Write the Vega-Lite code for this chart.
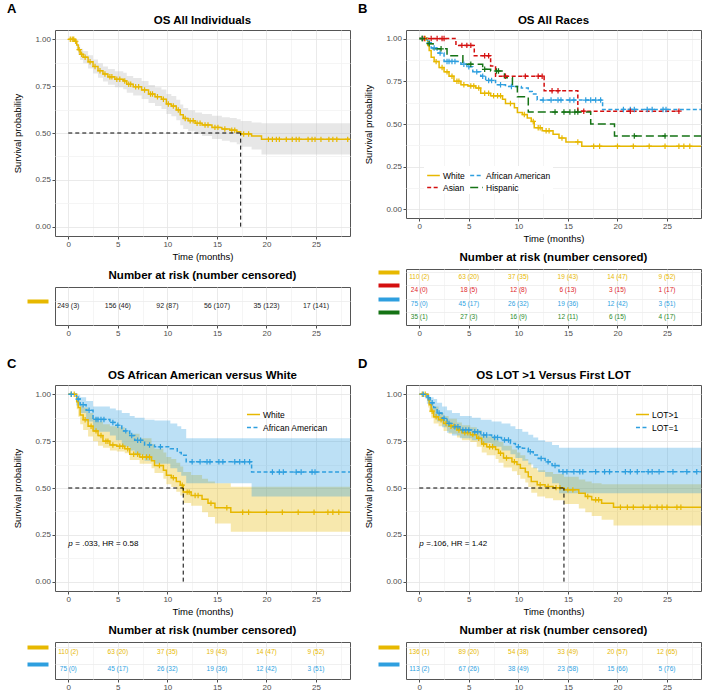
{
"$schema": "https://vega.github.io/schema/vega-lite/v6.json",
"background": "white",
"padding": {"left": 7, "top": 3, "right": 5, "bottom": 5},
"datasets": {
"kmA": [{"t":0,"s":1},{"t":0.65,"s":0.99},{"t":0.85,"s":0.97},{"t":1,"s":0.945},{"t":1.2,"s":0.92},{"t":1.5,"s":0.905},{"t":2,"s":0.88},{"t":2.5,"s":0.855},{"t":3,"s":0.833},{"t":3.5,"s":0.815},{"t":4,"s":0.8},{"t":4.7,"s":0.787},{"t":5.55,"s":0.778},{"t":5.9,"s":0.76},{"t":6.55,"s":0.747},{"t":7.4,"s":0.73},{"t":8.1,"s":0.708},{"t":8.75,"s":0.694},{"t":9.4,"s":0.68},{"t":9.9,"s":0.655},{"t":10.4,"s":0.644},{"t":10.9,"s":0.623},{"t":11.3,"s":0.597},{"t":11.6,"s":0.578},{"t":12.1,"s":0.566},{"t":12.8,"s":0.552},{"t":13.5,"s":0.543},{"t":14.5,"s":0.53},{"t":15.5,"s":0.521},{"t":16.3,"s":0.515},{"t":17,"s":0.507},{"t":17.4,"s":0.495},{"t":18.5,"s":0.484},{"t":19.5,"s":0.466},{"t":28.43,"s":0.466}],
"bandA": [{"t":0,"s":1,"s2":1},{"t":0.65,"s":0.975,"s2":1},{"t":0.85,"s":0.95,"s2":0.99},{"t":1,"s":0.918,"s2":0.972},{"t":1.2,"s":0.89,"s2":0.95},{"t":1.5,"s":0.872,"s2":0.938},{"t":2,"s":0.845,"s2":0.915},{"t":2.5,"s":0.818,"s2":0.892},{"t":3,"s":0.795,"s2":0.872},{"t":3.5,"s":0.775,"s2":0.855},{"t":4,"s":0.758,"s2":0.842},{"t":4.7,"s":0.744,"s2":0.83},{"t":5.55,"s":0.734,"s2":0.822},{"t":5.9,"s":0.715,"s2":0.805},{"t":6.55,"s":0.7,"s2":0.794},{"t":7.4,"s":0.682,"s2":0.778},{"t":8.1,"s":0.66,"s2":0.756},{"t":8.75,"s":0.644,"s2":0.744},{"t":9.4,"s":0.628,"s2":0.732},{"t":9.9,"s":0.602,"s2":0.708},{"t":10.4,"s":0.59,"s2":0.698},{"t":10.9,"s":0.568,"s2":0.678},{"t":11.3,"s":0.542,"s2":0.652},{"t":11.6,"s":0.522,"s2":0.634},{"t":12.1,"s":0.51,"s2":0.622},{"t":12.8,"s":0.494,"s2":0.61},{"t":13.5,"s":0.484,"s2":0.602},{"t":14.5,"s":0.468,"s2":0.592},{"t":15.5,"s":0.458,"s2":0.584},{"t":16.3,"s":0.45,"s2":0.58},{"t":17,"s":0.44,"s2":0.574},{"t":17.4,"s":0.426,"s2":0.564},{"t":18.5,"s":0.412,"s2":0.556},{"t":19.5,"s":0.385,"s2":0.552},{"t":28.43,"s":0.385,"s2":0.552}],
"censA": [{"t":0.2,"s":1},{"t":0.4,"s":1},{"t":0.55,"s":1},{"t":0.75,"s":0.99},{"t":1.1,"s":0.945},{"t":1.35,"s":0.92},{"t":1.7,"s":0.905},{"t":2.2,"s":0.88},{"t":2.7,"s":0.855},{"t":3.2,"s":0.833},{"t":3.7,"s":0.815},{"t":4.2,"s":0.8},{"t":4.4,"s":0.8},{"t":4.9,"s":0.787},{"t":5.2,"s":0.787},{"t":5.7,"s":0.778},{"t":6.1,"s":0.76},{"t":6.3,"s":0.76},{"t":6.8,"s":0.747},{"t":7.1,"s":0.747},{"t":7.7,"s":0.73},{"t":8.3,"s":0.708},{"t":8.5,"s":0.708},{"t":9,"s":0.694},{"t":9.6,"s":0.68},{"t":10.1,"s":0.655},{"t":10.6,"s":0.644},{"t":11.1,"s":0.623},{"t":11.8,"s":0.578},{"t":12.3,"s":0.566},{"t":12.6,"s":0.566},{"t":13,"s":0.552},{"t":13.3,"s":0.552},{"t":13.8,"s":0.543},{"t":14.1,"s":0.543},{"t":14.8,"s":0.53},{"t":15.1,"s":0.53},{"t":15.8,"s":0.521},{"t":16.5,"s":0.515},{"t":16.8,"s":0.515},{"t":17.7,"s":0.495},{"t":18.2,"s":0.495},{"t":20.2,"s":0.466},{"t":20.6,"s":0.466},{"t":21,"s":0.466},{"t":21.3,"s":0.466},{"t":22,"s":0.466},{"t":22.6,"s":0.466},{"t":23,"s":0.466},{"t":23.3,"s":0.466},{"t":24.2,"s":0.466},{"t":24.6,"s":0.466},{"t":24.9,"s":0.466},{"t":25.5,"s":0.466},{"t":26.3,"s":0.466},{"t":26.7,"s":0.466},{"t":27.1,"s":0.466},{"t":28.2,"s":0.466}],
"medA": [{"t":0,"t2":17.4,"s":0.5,"s2":0.5},{"t":17.4,"t2":17.4,"s":0,"s2":0.5}],
"medC": [{"t":0,"t2":11.6,"s":0.5,"s2":0.5},{"t":11.6,"t2":11.6,"s":0,"s2":0.5}],
"medD": [{"t":0,"t2":14.6,"s":0.5,"s2":0.5},{"t":14.6,"t2":14.6,"s":0,"s2":0.5}],
"kmB": [
{"g":"White","t":0,"s":1},{"g":"White","t":0.85,"s":0.96},{"g":"White","t":1,"s":0.93},{"g":"White","t":1.2,"s":0.89},{"g":"White","t":1.5,"s":0.865},{"g":"White","t":2,"s":0.83},{"g":"White","t":2.5,"s":0.805},{"g":"White","t":3,"s":0.78},{"g":"White","t":3.5,"s":0.75},{"g":"White","t":4.2,"s":0.73},{"g":"White","t":4.9,"s":0.723},{"g":"White","t":5.7,"s":0.71},{"g":"White","t":6.2,"s":0.68},{"g":"White","t":7.2,"s":0.665},{"g":"White","t":8.4,"s":0.645},{"g":"White","t":8.7,"s":0.62},{"g":"White","t":9.6,"s":0.595},{"g":"White","t":9.9,"s":0.568},{"g":"White","t":10.4,"s":0.555},{"g":"White","t":10.9,"s":0.535},{"g":"White","t":11.3,"s":0.515},{"g":"White","t":11.6,"s":0.478},{"g":"White","t":12.4,"s":0.46},{"g":"White","t":13.5,"s":0.44},{"g":"White","t":14.1,"s":0.418},{"g":"White","t":14.8,"s":0.395},{"g":"White","t":16.4,"s":0.37},{"g":"White","t":28.43,"s":0.37},
{"g":"African American","t":0,"s":1},{"g":"African American","t":0.8,"s":0.975},{"g":"African American","t":1.2,"s":0.945},{"g":"African American","t":1.8,"s":0.915},{"g":"African American","t":2.5,"s":0.866},{"g":"African American","t":4.2,"s":0.85},{"g":"African American","t":4.8,"s":0.835},{"g":"African American","t":5.4,"s":0.805},{"g":"African American","t":6.2,"s":0.78},{"g":"African American","t":6.7,"s":0.755},{"g":"African American","t":7.7,"s":0.73},{"g":"African American","t":8.7,"s":0.72},{"g":"African American","t":10.3,"s":0.71},{"g":"African American","t":11,"s":0.69},{"g":"African American","t":11.4,"s":0.675},{"g":"African American","t":11.9,"s":0.64},{"g":"African American","t":18.5,"s":0.585},{"g":"African American","t":28.43,"s":0.585},
{"g":"Asian","t":0,"s":1},{"g":"Asian","t":3.7,"s":0.96},{"g":"Asian","t":5.55,"s":0.9},{"g":"Asian","t":7.2,"s":0.84},{"g":"Asian","t":7.7,"s":0.78},{"g":"Asian","t":12.6,"s":0.695},{"g":"Asian","t":16,"s":0.575},{"g":"Asian","t":26.2,"s":0.575},
{"g":"Hispanic","t":0,"s":1},{"g":"Hispanic","t":0.9,"s":0.97},{"g":"Hispanic","t":1.4,"s":0.94},{"g":"Hispanic","t":2.8,"s":0.9},{"g":"Hispanic","t":4.4,"s":0.85},{"g":"Hispanic","t":6.4,"s":0.82},{"g":"Hispanic","t":7.2,"s":0.81},{"g":"Hispanic","t":8.6,"s":0.77},{"g":"Hispanic","t":9.4,"s":0.72},{"g":"Hispanic","t":9.9,"s":0.66},{"g":"Hispanic","t":11,"s":0.57},{"g":"Hispanic","t":17.3,"s":0.5},{"g":"Hispanic","t":19.7,"s":0.43},{"g":"Hispanic","t":28.43,"s":0.43}],
"censB": [
{"g":"White","t":0.3,"s":1},{"g":"White","t":0.6,"s":1},{"g":"White","t":1.7,"s":0.865},{"g":"White","t":2.3,"s":0.83},{"g":"White","t":2.8,"s":0.805},{"g":"White","t":3.3,"s":0.78},{"g":"White","t":3.8,"s":0.75},{"g":"White","t":4,"s":0.75},{"g":"White","t":4.5,"s":0.73},{"g":"White","t":5.2,"s":0.723},{"g":"White","t":5.5,"s":0.723},{"g":"White","t":6,"s":0.71},{"g":"White","t":6.6,"s":0.68},{"g":"White","t":7,"s":0.68},{"g":"White","t":7.5,"s":0.665},{"g":"White","t":7.9,"s":0.665},{"g":"White","t":8.2,"s":0.665},{"g":"White","t":9.2,"s":0.62},{"g":"White","t":10.6,"s":0.555},{"g":"White","t":11.5,"s":0.515},{"g":"White","t":12,"s":0.478},{"g":"White","t":12.2,"s":0.478},{"g":"White","t":12.8,"s":0.46},{"g":"White","t":13.1,"s":0.46},{"g":"White","t":14.4,"s":0.418},{"g":"White","t":16,"s":0.395},{"g":"White","t":17.6,"s":0.37},{"g":"White","t":18.2,"s":0.37},{"g":"White","t":20,"s":0.37},{"g":"White","t":21.6,"s":0.37},{"g":"White","t":23.2,"s":0.37},{"g":"White","t":24.8,"s":0.37},{"g":"White","t":26.2,"s":0.37},{"g":"White","t":26.7,"s":0.37},{"g":"White","t":27.3,"s":0.37},
{"g":"African American","t":0.3,"s":1},{"g":"African American","t":1,"s":0.975},{"g":"African American","t":1.5,"s":0.945},{"g":"African American","t":2.1,"s":0.915},{"g":"African American","t":2.8,"s":0.866},{"g":"African American","t":3,"s":0.866},{"g":"African American","t":3.3,"s":0.866},{"g":"African American","t":3.6,"s":0.866},{"g":"African American","t":4.5,"s":0.85},{"g":"African American","t":5,"s":0.835},{"g":"African American","t":5.8,"s":0.805},{"g":"African American","t":6.4,"s":0.78},{"g":"African American","t":7,"s":0.755},{"g":"African American","t":7.3,"s":0.755},{"g":"African American","t":8.2,"s":0.73},{"g":"African American","t":9.3,"s":0.72},{"g":"African American","t":12.5,"s":0.64},{"g":"African American","t":13.3,"s":0.64},{"g":"African American","t":14,"s":0.64},{"g":"African American","t":14.3,"s":0.64},{"g":"African American","t":15.2,"s":0.64},{"g":"African American","t":15.6,"s":0.64},{"g":"African American","t":16.8,"s":0.64},{"g":"African American","t":17.3,"s":0.64},{"g":"African American","t":17.8,"s":0.64},{"g":"African American","t":18.3,"s":0.64},{"g":"African American","t":20.6,"s":0.585},{"g":"African American","t":21.3,"s":0.585},{"g":"African American","t":21.7,"s":0.585},{"g":"African American","t":23,"s":0.585},{"g":"African American","t":23.5,"s":0.585},{"g":"African American","t":24.6,"s":0.585},{"g":"African American","t":24.9,"s":0.585},
{"g":"Asian","t":0.5,"s":1},{"g":"Asian","t":1.2,"s":1},{"g":"Asian","t":1.8,"s":1},{"g":"Asian","t":2.3,"s":1},{"g":"Asian","t":2.5,"s":1},{"g":"Asian","t":4.3,"s":0.96},{"g":"Asian","t":4.8,"s":0.96},{"g":"Asian","t":5.2,"s":0.96},{"g":"Asian","t":6.6,"s":0.9},{"g":"Asian","t":7,"s":0.9},{"g":"Asian","t":8.7,"s":0.78},{"g":"Asian","t":10.7,"s":0.78},{"g":"Asian","t":12,"s":0.78},{"g":"Asian","t":12.4,"s":0.78},{"g":"Asian","t":13.4,"s":0.695},{"g":"Asian","t":14,"s":0.695},{"g":"Asian","t":16.6,"s":0.575},{"g":"Asian","t":21.3,"s":0.575},{"g":"Asian","t":26.2,"s":0.575},
{"g":"Hispanic","t":0.3,"s":1},{"g":"Hispanic","t":1,"s":0.97},{"g":"Hispanic","t":2.2,"s":0.94},{"g":"Hispanic","t":5.2,"s":0.85},{"g":"Hispanic","t":6.6,"s":0.82},{"g":"Hispanic","t":7.8,"s":0.81},{"g":"Hispanic","t":8,"s":0.81},{"g":"Hispanic","t":13.7,"s":0.57},{"g":"Hispanic","t":14.6,"s":0.57},{"g":"Hispanic","t":15.2,"s":0.57},{"g":"Hispanic","t":15.7,"s":0.57},{"g":"Hispanic","t":16,"s":0.57},{"g":"Hispanic","t":21.7,"s":0.43},{"g":"Hispanic","t":24.8,"s":0.43}],
"bandC": [
{"g":"White","t":0,"s":1,"s2":1},{"g":"White","t":0.85,"s":0.92,"s2":0.99},{"g":"White","t":1,"s":0.88,"s2":0.975},{"g":"White","t":1.2,"s":0.84,"s2":0.95},{"g":"White","t":1.5,"s":0.81,"s2":0.93},{"g":"White","t":2,"s":0.775,"s2":0.9},{"g":"White","t":2.5,"s":0.75,"s2":0.875},{"g":"White","t":3,"s":0.725,"s2":0.855},{"g":"White","t":3.5,"s":0.715,"s2":0.84},{"g":"White","t":4.2,"s":0.7,"s2":0.83},{"g":"White","t":4.9,"s":0.695,"s2":0.825},{"g":"White","t":5.7,"s":0.685,"s2":0.8},{"g":"White","t":6.2,"s":0.65,"s2":0.79},{"g":"White","t":7.2,"s":0.63,"s2":0.765},{"g":"White","t":8.4,"s":0.605,"s2":0.735},{"g":"White","t":8.7,"s":0.58,"s2":0.71},{"g":"White","t":9.6,"s":0.55,"s2":0.69},{"g":"White","t":9.9,"s":0.52,"s2":0.665},{"g":"White","t":10.4,"s":0.505,"s2":0.655},{"g":"White","t":10.9,"s":0.48,"s2":0.635},{"g":"White","t":11.3,"s":0.46,"s2":0.615},{"g":"White","t":11.6,"s":0.42,"s2":0.585},{"g":"White","t":12.4,"s":0.405,"s2":0.57},{"g":"White","t":13.5,"s":0.37,"s2":0.55},{"g":"White","t":14.1,"s":0.345,"s2":0.535},{"g":"White","t":14.8,"s":0.31,"s2":0.525},{"g":"White","t":16.4,"s":0.267,"s2":0.507},{"g":"White","t":28.43,"s":0.267,"s2":0.507},
{"g":"African American","t":0,"s":1,"s2":1},{"g":"African American","t":0.8,"s":0.94,"s2":0.995},{"g":"African American","t":1.2,"s":0.9,"s2":0.985},{"g":"African American","t":1.8,"s":0.855,"s2":0.965},{"g":"African American","t":2.5,"s":0.8,"s2":0.935},{"g":"African American","t":4.2,"s":0.78,"s2":0.925},{"g":"African American","t":4.8,"s":0.755,"s2":0.915},{"g":"African American","t":5.4,"s":0.72,"s2":0.9},{"g":"African American","t":6.2,"s":0.7,"s2":0.885},{"g":"African American","t":6.7,"s":0.675,"s2":0.875},{"g":"African American","t":7.7,"s":0.645,"s2":0.865},{"g":"African American","t":8.7,"s":0.63,"s2":0.86},{"g":"African American","t":10.3,"s":0.605,"s2":0.845},{"g":"African American","t":11,"s":0.585,"s2":0.83},{"g":"African American","t":11.4,"s":0.565,"s2":0.815},{"g":"African American","t":11.9,"s":0.525,"s2":0.765},{"g":"African American","t":18.5,"s":0.455,"s2":0.765},{"g":"African American","t":28.43,"s":0.455,"s2":0.765}],
"annC": [{"t":0,"s":0.2,"p":"p","rest":"= .033, HR = 0.58"}],
"annD": [{"t":0,"s":0.2,"p":"p","rest":"=.106, HR = 1.42"}],
"kmD": [
{"g":"LOT>1","t":0,"s":1},{"g":"LOT>1","t":0.9,"s":0.97},{"g":"LOT>1","t":1,"s":0.945},{"g":"LOT>1","t":1.2,"s":0.91},{"g":"LOT>1","t":1.45,"s":0.88},{"g":"LOT>1","t":1.95,"s":0.865},{"g":"LOT>1","t":2.45,"s":0.845},{"g":"LOT>1","t":2.96,"s":0.83},{"g":"LOT>1","t":3.8,"s":0.81},{"g":"LOT>1","t":4.3,"s":0.795},{"g":"LOT>1","t":5.15,"s":0.785},{"g":"LOT>1","t":5.8,"s":0.765},{"g":"LOT>1","t":6.3,"s":0.735},{"g":"LOT>1","t":6.8,"s":0.72},{"g":"LOT>1","t":7.7,"s":0.705},{"g":"LOT>1","t":8,"s":0.685},{"g":"LOT>1","t":8.5,"s":0.66},{"g":"LOT>1","t":9.35,"s":0.64},{"g":"LOT>1","t":9.86,"s":0.625},{"g":"LOT>1","t":10.2,"s":0.605},{"g":"LOT>1","t":10.7,"s":0.585},{"g":"LOT>1","t":11,"s":0.56},{"g":"LOT>1","t":11.3,"s":0.535},{"g":"LOT>1","t":11.9,"s":0.518},{"g":"LOT>1","t":12.7,"s":0.508},{"g":"LOT>1","t":13.5,"s":0.502},{"g":"LOT>1","t":14.6,"s":0.49},{"g":"LOT>1","t":16.1,"s":0.472},{"g":"LOT>1","t":16.75,"s":0.455},{"g":"LOT>1","t":17.4,"s":0.437},{"g":"LOT>1","t":18.4,"s":0.418},{"g":"LOT>1","t":19.6,"s":0.397},{"g":"LOT>1","t":28.43,"s":0.397},
{"g":"LOT=1","t":0,"s":1},{"g":"LOT=1","t":0.77,"s":0.982},{"g":"LOT=1","t":1.1,"s":0.955},{"g":"LOT=1","t":1.45,"s":0.93},{"g":"LOT=1","t":1.8,"s":0.9},{"g":"LOT=1","t":2.3,"s":0.872},{"g":"LOT=1","t":2.8,"s":0.845},{"g":"LOT=1","t":3.3,"s":0.827},{"g":"LOT=1","t":4.1,"s":0.81},{"g":"LOT=1","t":5.3,"s":0.8},{"g":"LOT=1","t":6.2,"s":0.783},{"g":"LOT=1","t":7.3,"s":0.77},{"g":"LOT=1","t":8.3,"s":0.756},{"g":"LOT=1","t":9.2,"s":0.738},{"g":"LOT=1","t":9.7,"s":0.72},{"g":"LOT=1","t":10.4,"s":0.712},{"g":"LOT=1","t":11,"s":0.694},{"g":"LOT=1","t":11.5,"s":0.676},{"g":"LOT=1","t":12,"s":0.658},{"g":"LOT=1","t":12.7,"s":0.64},{"g":"LOT=1","t":13.4,"s":0.62},{"g":"LOT=1","t":14.1,"s":0.587},{"g":"LOT=1","t":28.43,"s":0.587}],
"bandD": [
{"g":"LOT>1","t":0,"s":1,"s2":1},{"g":"LOT>1","t":0.9,"s":0.93,"s2":0.99},{"g":"LOT>1","t":1,"s":0.905,"s2":0.98},{"g":"LOT>1","t":1.2,"s":0.875,"s2":0.96},{"g":"LOT>1","t":1.45,"s":0.845,"s2":0.935},{"g":"LOT>1","t":1.95,"s":0.83,"s2":0.9},{"g":"LOT>1","t":2.45,"s":0.805,"s2":0.885},{"g":"LOT>1","t":2.96,"s":0.79,"s2":0.87},{"g":"LOT>1","t":3.8,"s":0.77,"s2":0.85},{"g":"LOT>1","t":4.3,"s":0.755,"s2":0.835},{"g":"LOT>1","t":5.15,"s":0.745,"s2":0.825},{"g":"LOT>1","t":5.8,"s":0.72,"s2":0.81},{"g":"LOT>1","t":6.3,"s":0.69,"s2":0.785},{"g":"LOT>1","t":6.8,"s":0.675,"s2":0.775},{"g":"LOT>1","t":7.7,"s":0.655,"s2":0.76},{"g":"LOT>1","t":8,"s":0.635,"s2":0.745},{"g":"LOT>1","t":8.5,"s":0.61,"s2":0.725},{"g":"LOT>1","t":9.35,"s":0.59,"s2":0.705},{"g":"LOT>1","t":9.86,"s":0.57,"s2":0.69},{"g":"LOT>1","t":10.2,"s":0.55,"s2":0.675},{"g":"LOT>1","t":10.7,"s":0.53,"s2":0.655},{"g":"LOT>1","t":11,"s":0.505,"s2":0.635},{"g":"LOT>1","t":11.3,"s":0.475,"s2":0.61},{"g":"LOT>1","t":11.9,"s":0.455,"s2":0.595},{"g":"LOT>1","t":12.7,"s":0.445,"s2":0.585},{"g":"LOT>1","t":13.5,"s":0.435,"s2":0.575},{"g":"LOT>1","t":14.6,"s":0.415,"s2":0.56},{"g":"LOT>1","t":16.1,"s":0.39,"s2":0.545},{"g":"LOT>1","t":16.75,"s":0.37,"s2":0.535},{"g":"LOT>1","t":17.4,"s":0.35,"s2":0.525},{"g":"LOT>1","t":18.4,"s":0.33,"s2":0.52},{"g":"LOT>1","t":19.6,"s":0.3,"s2":0.52},{"g":"LOT>1","t":28.43,"s":0.3,"s2":0.52},
{"g":"LOT=1","t":0,"s":1,"s2":1},{"g":"LOT=1","t":0.77,"s":0.95,"s2":0.995},{"g":"LOT=1","t":1.1,"s":0.915,"s2":0.985},{"g":"LOT=1","t":1.45,"s":0.885,"s2":0.975},{"g":"LOT=1","t":1.8,"s":0.855,"s2":0.955},{"g":"LOT=1","t":2.3,"s":0.825,"s2":0.935},{"g":"LOT=1","t":2.8,"s":0.795,"s2":0.915},{"g":"LOT=1","t":3.3,"s":0.78,"s2":0.9},{"g":"LOT=1","t":4.1,"s":0.765,"s2":0.885},{"g":"LOT=1","t":5.3,"s":0.755,"s2":0.875},{"g":"LOT=1","t":6.2,"s":0.74,"s2":0.865},{"g":"LOT=1","t":7.3,"s":0.72,"s2":0.855},{"g":"LOT=1","t":8.3,"s":0.7,"s2":0.845},{"g":"LOT=1","t":9.2,"s":0.68,"s2":0.83},{"g":"LOT=1","t":9.7,"s":0.66,"s2":0.815},{"g":"LOT=1","t":10.4,"s":0.645,"s2":0.8},{"g":"LOT=1","t":11,"s":0.625,"s2":0.785},{"g":"LOT=1","t":11.5,"s":0.605,"s2":0.77},{"g":"LOT=1","t":12,"s":0.585,"s2":0.755},{"g":"LOT=1","t":12.7,"s":0.56,"s2":0.745},{"g":"LOT=1","t":13.4,"s":0.525,"s2":0.73},{"g":"LOT=1","t":14.1,"s":0.472,"s2":0.715},{"g":"LOT=1","t":28.43,"s":0.472,"s2":0.715}],
"censD": [
{"g":"LOT>1","t":0.3,"s":1},{"g":"LOT>1","t":0.6,"s":1},{"g":"LOT>1","t":1.3,"s":0.91},{"g":"LOT>1","t":1.7,"s":0.88},{"g":"LOT>1","t":2.2,"s":0.865},{"g":"LOT>1","t":2.7,"s":0.845},{"g":"LOT>1","t":3.2,"s":0.83},{"g":"LOT>1","t":3.5,"s":0.83},{"g":"LOT>1","t":4,"s":0.81},{"g":"LOT>1","t":4.6,"s":0.795},{"g":"LOT>1","t":4.9,"s":0.795},{"g":"LOT>1","t":5.4,"s":0.785},{"g":"LOT>1","t":6,"s":0.765},{"g":"LOT>1","t":6.5,"s":0.735},{"g":"LOT>1","t":7.1,"s":0.72},{"g":"LOT>1","t":7.4,"s":0.72},{"g":"LOT>1","t":8.2,"s":0.685},{"g":"LOT>1","t":8.8,"s":0.66},{"g":"LOT>1","t":9.6,"s":0.64},{"g":"LOT>1","t":12.2,"s":0.518},{"g":"LOT>1","t":13,"s":0.508},{"g":"LOT>1","t":13.8,"s":0.502},{"g":"LOT>1","t":14.2,"s":0.502},{"g":"LOT>1","t":15,"s":0.49},{"g":"LOT>1","t":15.5,"s":0.49},{"g":"LOT>1","t":17,"s":0.455},{"g":"LOT>1","t":17.8,"s":0.437},{"g":"LOT>1","t":18.1,"s":0.437},{"g":"LOT>1","t":20.3,"s":0.397},{"g":"LOT>1","t":21,"s":0.397},{"g":"LOT>1","t":21.6,"s":0.397},{"g":"LOT>1","t":22.6,"s":0.397},{"g":"LOT>1","t":23.3,"s":0.397},{"g":"LOT>1","t":24,"s":0.397},{"g":"LOT>1","t":24.5,"s":0.397},{"g":"LOT>1","t":25,"s":0.397},{"g":"LOT>1","t":26,"s":0.397},{"g":"LOT>1","t":26.4,"s":0.397},
{"g":"LOT=1","t":0.4,"s":1},{"g":"LOT=1","t":0.9,"s":0.982},{"g":"LOT=1","t":1.3,"s":0.955},{"g":"LOT=1","t":2,"s":0.9},{"g":"LOT=1","t":2.5,"s":0.872},{"g":"LOT=1","t":3,"s":0.845},{"g":"LOT=1","t":3.6,"s":0.827},{"g":"LOT=1","t":3.9,"s":0.827},{"g":"LOT=1","t":4.4,"s":0.81},{"g":"LOT=1","t":4.7,"s":0.81},{"g":"LOT=1","t":5,"s":0.81},{"g":"LOT=1","t":5.6,"s":0.8},{"g":"LOT=1","t":5.9,"s":0.8},{"g":"LOT=1","t":6.5,"s":0.783},{"g":"LOT=1","t":6.8,"s":0.783},{"g":"LOT=1","t":7.6,"s":0.77},{"g":"LOT=1","t":7.9,"s":0.77},{"g":"LOT=1","t":8.6,"s":0.756},{"g":"LOT=1","t":9,"s":0.756},{"g":"LOT=1","t":10,"s":0.72},{"g":"LOT=1","t":11.2,"s":0.694},{"g":"LOT=1","t":12.3,"s":0.658},{"g":"LOT=1","t":13,"s":0.64},{"g":"LOT=1","t":13.7,"s":0.62},{"g":"LOT=1","t":14.5,"s":0.587},{"g":"LOT=1","t":14.9,"s":0.587},{"g":"LOT=1","t":15.6,"s":0.587},{"g":"LOT=1","t":16.2,"s":0.587},{"g":"LOT=1","t":16.5,"s":0.587},{"g":"LOT=1","t":17.8,"s":0.587},{"g":"LOT=1","t":18.7,"s":0.587},{"g":"LOT=1","t":19.2,"s":0.587},{"g":"LOT=1","t":20.8,"s":0.587},{"g":"LOT=1","t":21.3,"s":0.587},{"g":"LOT=1","t":22,"s":0.587},{"g":"LOT=1","t":23.1,"s":0.587},{"g":"LOT=1","t":23.5,"s":0.587},{"g":"LOT=1","t":24.2,"s":0.587},{"g":"LOT=1","t":25.6,"s":0.587},{"g":"LOT=1","t":27,"s":0.587},{"g":"LOT=1","t":28,"s":0.587}],
"riskA": [{"g":"All","t":0,"label":"249 (3)"},{"g":"All","t":5,"label":"156 (46)"},{"g":"All","t":10,"label":"92 (87)"},{"g":"All","t":15,"label":"56 (107)"},{"g":"All","t":20,"label":"35 (123)"},{"g":"All","t":25,"label":"17 (141)"}],
"riskB": [
{"g":"White","t":0,"label":"110 (2)"},{"g":"White","t":5,"label":"63 (20)"},{"g":"White","t":10,"label":"37 (35)"},{"g":"White","t":15,"label":"19 (43)"},{"g":"White","t":20,"label":"14 (47)"},{"g":"White","t":25,"label":"9 (52)"},
{"g":"Asian","t":0,"label":"24 (0)"},{"g":"Asian","t":5,"label":"18 (5)"},{"g":"Asian","t":10,"label":"12 (8)"},{"g":"Asian","t":15,"label":"6 (13)"},{"g":"Asian","t":20,"label":"3 (15)"},{"g":"Asian","t":25,"label":"1 (17)"},
{"g":"African American","t":0,"label":"75 (0)"},{"g":"African American","t":5,"label":"45 (17)"},{"g":"African American","t":10,"label":"26 (32)"},{"g":"African American","t":15,"label":"19 (36)"},{"g":"African American","t":20,"label":"12 (42)"},{"g":"African American","t":25,"label":"3 (51)"},
{"g":"Hispanic","t":0,"label":"35 (1)"},{"g":"Hispanic","t":5,"label":"27 (3)"},{"g":"Hispanic","t":10,"label":"16 (9)"},{"g":"Hispanic","t":15,"label":"12 (11)"},{"g":"Hispanic","t":20,"label":"6 (15)"},{"g":"Hispanic","t":25,"label":"4 (17)"}],
"riskD": [
{"g":"LOT>1","t":0,"label":"136 (1)"},{"g":"LOT>1","t":5,"label":"89 (20)"},{"g":"LOT>1","t":10,"label":"54 (38)"},{"g":"LOT>1","t":15,"label":"33 (49)"},{"g":"LOT>1","t":20,"label":"20 (57)"},{"g":"LOT>1","t":25,"label":"12 (65)"},
{"g":"LOT=1","t":0,"label":"113 (2)"},{"g":"LOT=1","t":5,"label":"67 (26)"},{"g":"LOT=1","t":10,"label":"38 (49)"},{"g":"LOT=1","t":15,"label":"23 (58)"},{"g":"LOT=1","t":20,"label":"15 (66)"},{"g":"LOT=1","t":25,"label":"5 (76)"}]
},
"hconcat": [
{"vconcat": [
 {"title": {"text": "A", "anchor": "start", "fontSize": 13, "fontWeight": "bold", "dx": -48, "offset": -2, "frame": "group"},
  "vconcat": [
   {"width": 295, "height": 206, "title": {"text": "OS All Individuals", "offset": 4},
    "encoding": {
     "x": {"field": "t", "type": "quantitative", "scale": {"domain": [-1.34, 28.43], "nice": false, "zero": false},
      "axis": {"values": [0,2.5,5,7.5,10,12.5,15,17.5,20,22.5,25,27.5], "labelExpr": "datum.value % 5 === 0 ? datum.label : ''", "labelFlush": false, "labelOverlap": false, "gridColor": {"condition": {"test": "datum.value % 5 !== 0", "value": "#f3f3f3"}, "value": "#e4e4e4"}, "tickColor": {"condition": {"test": "datum.value % 5 !== 0", "value": "transparent"}, "value": "#4d4d4d"}, "title": "Time (months)"}},
     "y": {"field": "s", "type": "quantitative", "scale": {"domain": [-0.05, 1.05], "nice": false, "zero": false},
      "axis": {"values": [0,0.125,0.25,0.375,0.5,0.625,0.75,0.875,1], "format": ".2f", "labelExpr": "(datum.value*8) % 2 === 1 ? '' : datum.label", "labelFlush": false, "labelOverlap": false, "gridColor": {"condition": {"test": "(datum.value*8) % 2 === 1", "value": "#f3f3f3"}, "value": "#e4e4e4"}, "tickColor": {"condition": {"test": "(datum.value*8) % 2 === 1", "value": "transparent"}, "value": "#4d4d4d"}, "title": "Survival probability", "titlePadding": 12}}
    },
    "layer": [
     {"data": {"name": "bandA"}, "mark": {"type": "area", "interpolate": "step-after", "color": "#c4c4c4", "opacity": 0.4}, "encoding": {"y2": {"field": "s2"}}},
     {"data": {"name": "kmA"}, "mark": {"type": "line", "interpolate": "step-after", "color": "#E7B800", "strokeWidth": 1.5}, "encoding": {}},
     {"data": {"name": "censA"}, "mark": {"type": "point", "shape": "M-1,0H1M0,-1V1", "filled": false, "color": "#E7B800", "size": 30, "strokeWidth": 1.2, "opacity": 1}, "encoding": {}},
     {"data": {"name": "medA"}, "mark": {"type": "rule", "color": "black", "strokeDash": [4, 3], "strokeWidth": 1}, "encoding": {"x2": {"field": "t2"}, "y2": {"field": "s2"}}}
    ]},
   {"width": 295, "height": 38, "title": {"text": "Number at risk (number censored)", "offset": 6},
    "data": {"name": "riskA"},
    "mark": {"type": "text", "fontSize": 7},
    "encoding": {
     "x": {"field": "t", "type": "quantitative", "scale": {"domain": [-1.34, 28.43], "nice": false, "zero": false},
      "axis": {"values": [0,2.5,5,7.5,10,12.5,15,17.5,20,22.5,25,27.5], "labelExpr": "datum.value % 5 === 0 ? datum.label : ''", "labelFlush": false, "labelOverlap": false, "gridColor": {"condition": {"test": "datum.value % 5 !== 0", "value": "#f3f3f3"}, "value": "#e4e4e4"}, "tickColor": {"condition": {"test": "datum.value % 5 !== 0", "value": "transparent"}, "value": "#4d4d4d"}, "title": null}},
     "y": {"field": "g", "type": "nominal", "scale": {"type": "point", "padding": 0.6, "domain": ["All"]},
      "axis": {"title": null, "labels": false, "grid": true, "gridColor": "#ececec", "domain": false, "offset": 7, "tickSize": 21, "tickWidth": 4, "tickOffset": -5, "tickColor": "#E7B800"}},
     "text": {"field": "label"},
     "color": {"field": "g", "type": "nominal", "scale": {"domain": ["All"], "range": ["#222222"]}, "legend": null}
    }}
  ], "spacing": 51, "bounds": "flush",
  "resolve": {"scale": {"color": "independent", "strokeDash": "independent", "fill": "independent"}, "legend": {"color": "independent", "strokeDash": "independent", "fill": "independent"}}},
 {"title": {"text": "C", "anchor": "start", "fontSize": 13, "fontWeight": "bold", "dx": -48, "offset": -2, "frame": "group"},
  "vconcat": [
   {"width": 295, "height": 206, "title": {"text": "OS African American versus White", "offset": 4},
    "encoding": {
     "x": {"field": "t", "type": "quantitative", "scale": {"domain": [-1.34, 28.43], "nice": false, "zero": false},
      "axis": {"values": [0,2.5,5,7.5,10,12.5,15,17.5,20,22.5,25,27.5], "labelExpr": "datum.value % 5 === 0 ? datum.label : ''", "labelFlush": false, "labelOverlap": false, "gridColor": {"condition": {"test": "datum.value % 5 !== 0", "value": "#f3f3f3"}, "value": "#e4e4e4"}, "tickColor": {"condition": {"test": "datum.value % 5 !== 0", "value": "transparent"}, "value": "#4d4d4d"}, "title": "Time (months)"}},
     "y": {"field": "s", "type": "quantitative", "scale": {"domain": [-0.05, 1.05], "nice": false, "zero": false},
      "axis": {"values": [0,0.125,0.25,0.375,0.5,0.625,0.75,0.875,1], "format": ".2f", "labelExpr": "(datum.value*8) % 2 === 1 ? '' : datum.label", "labelFlush": false, "labelOverlap": false, "gridColor": {"condition": {"test": "(datum.value*8) % 2 === 1", "value": "#f3f3f3"}, "value": "#e4e4e4"}, "tickColor": {"condition": {"test": "(datum.value*8) % 2 === 1", "value": "transparent"}, "value": "#4d4d4d"}, "title": "Survival probability", "titlePadding": 12}}
    },
    "layer": [
     {"data": {"name": "bandC"}, "mark": {"type": "area", "interpolate": "step-after", "fillOpacity": 0.32}, "encoding": {"y2": {"field": "s2"}, "fill": {"field": "g", "type": "nominal", "scale": {"domain": ["White", "African American"], "range": ["#E7B800", "#2E9FDF"]}, "legend": {"title": null, "orient": "top-right", "offset": 20, "symbolType": "stroke", "symbolSize": 170, "symbolStrokeWidth": 1.5, "labelFontSize": 8.5, "padding": 2, "rowPadding": 1, "labelOffset": 2}}}},
     {"data": {"name": "kmB"}, "transform": [{"filter": {"field": "g", "oneOf": ["White", "African American"]}}], "mark": {"type": "line", "interpolate": "step-after", "strokeWidth": 1.5},
      "encoding": {
       "color": {"field": "g", "type": "nominal", "scale": {"domain": ["White", "African American"], "range": ["#E7B800", "#2E9FDF"]}, "legend": {"title": null, "orient": "top-right", "offset": 20, "symbolType": "stroke", "symbolSize": 170, "symbolStrokeWidth": 1.5, "labelFontSize": 8.5, "padding": 2, "rowPadding": 1, "labelOffset": 2}},
       "strokeDash": {"field": "g", "type": "nominal", "scale": {"domain": ["White", "African American"], "range": [[1, 0], [4, 2.5]]}, "legend": {"title": null, "orient": "top-right", "offset": 20, "symbolType": "stroke", "symbolSize": 170, "symbolStrokeWidth": 1.5, "labelFontSize": 8.5, "padding": 2, "rowPadding": 1, "labelOffset": 2}}
      }},
     {"data": {"name": "censB"}, "transform": [{"filter": {"field": "g", "oneOf": ["White", "African American"]}}], "mark": {"type": "point", "shape": "M-1,0H1M0,-1V1", "filled": false, "size": 30, "strokeWidth": 1.2, "opacity": 1}, "encoding": {"stroke": {"field": "g", "type": "nominal", "scale": {"domain": ["White", "African American"], "range": ["#E7B800", "#2E9FDF"]}, "legend": null}}},
     {"data": {"name": "medC"}, "mark": {"type": "rule", "color": "black", "strokeDash": [4, 3], "strokeWidth": 1}, "encoding": {"x2": {"field": "t2"}, "y2": {"field": "s2"}}},
     {"data": {"name": "annC"}, "mark": {"type": "text", "align": "left", "fontSize": 8, "fontStyle": "italic", "color": "black"}, "encoding": {"text": {"field": "p"}}},
     {"data": {"name": "annC"}, "mark": {"type": "text", "align": "left", "fontSize": 8, "dx": 7, "color": "black"}, "encoding": {"text": {"field": "rest"}}}
    ]},
   {"width": 295, "height": 37, "title": {"text": "Number at risk (number censored)", "offset": 6},
    "data": {"name": "riskB"},
    "transform": [{"filter": {"field": "g", "oneOf": ["White", "African American"]}}],
    "mark": {"type": "text", "fontSize": 6.5},
    "encoding": {
     "x": {"field": "t", "type": "quantitative", "scale": {"domain": [-1.34, 28.43], "nice": false, "zero": false},
      "axis": {"values": [0,2.5,5,7.5,10,12.5,15,17.5,20,22.5,25,27.5], "labelExpr": "datum.value % 5 === 0 ? datum.label : ''", "labelFlush": false, "labelOverlap": false, "gridColor": {"condition": {"test": "datum.value % 5 !== 0", "value": "#f3f3f3"}, "value": "#e4e4e4"}, "tickColor": {"condition": {"test": "datum.value % 5 !== 0", "value": "transparent"}, "value": "#4d4d4d"}, "title": null}},
     "y": {"field": "g", "type": "nominal", "scale": {"type": "point", "padding": 0.6, "domain": ["White", "African American"]},
      "axis": {"title": null, "labels": false, "grid": true, "gridColor": "#ececec", "domain": false, "offset": 7, "tickSize": 21, "tickWidth": 4, "tickOffset": -5, "tickColor": {"condition": {"test": "datum.value === 'White'", "value": "#E7B800"}, "value": "#2E9FDF"}}},
     "text": {"field": "label"},
     "color": {"field": "g", "type": "nominal", "scale": {"domain": ["White", "African American"], "range": ["#E7B800", "#2E9FDF"]}, "legend": null}
    }}
  ], "spacing": 51, "bounds": "flush",
  "resolve": {"scale": {"color": "independent", "strokeDash": "independent", "fill": "independent", "stroke": "independent"}, "legend": {"color": "independent", "strokeDash": "independent", "fill": "independent", "stroke": "independent"}}}
], "spacing": 20,
 "resolve": {"scale": {"color": "independent", "strokeDash": "independent", "fill": "independent", "stroke": "independent"}, "legend": {"color": "independent", "strokeDash": "independent", "fill": "independent", "stroke": "independent"}}},
{"vconcat": [
 {"title": {"text": "B", "anchor": "start", "fontSize": 13, "fontWeight": "bold", "dx": -48, "offset": -2, "frame": "group"},
  "vconcat": [
   {"width": 295, "height": 188, "title": {"text": "OS All Races", "offset": 4},
    "encoding": {
     "x": {"field": "t", "type": "quantitative", "scale": {"domain": [-1.34, 28.43], "nice": false, "zero": false},
      "axis": {"values": [0,2.5,5,7.5,10,12.5,15,17.5,20,22.5,25,27.5], "labelExpr": "datum.value % 5 === 0 ? datum.label : ''", "labelFlush": false, "labelOverlap": false, "gridColor": {"condition": {"test": "datum.value % 5 !== 0", "value": "#f3f3f3"}, "value": "#e4e4e4"}, "tickColor": {"condition": {"test": "datum.value % 5 !== 0", "value": "transparent"}, "value": "#4d4d4d"}, "title": "Time (months)"}},
     "y": {"field": "s", "type": "quantitative", "scale": {"domain": [-0.05, 1.05], "nice": false, "zero": false},
      "axis": {"values": [0,0.125,0.25,0.375,0.5,0.625,0.75,0.875,1], "format": ".2f", "labelExpr": "(datum.value*8) % 2 === 1 ? '' : datum.label", "labelFlush": false, "labelOverlap": false, "gridColor": {"condition": {"test": "(datum.value*8) % 2 === 1", "value": "#f3f3f3"}, "value": "#e4e4e4"}, "tickColor": {"condition": {"test": "(datum.value*8) % 2 === 1", "value": "transparent"}, "value": "#4d4d4d"}, "title": "Survival probability", "titlePadding": 12}}
    },
    "layer": [
     {"data": {"name": "kmB"}, "mark": {"type": "line", "interpolate": "step-after", "strokeWidth": 1.5},
      "encoding": {
       "color": {"field": "g", "type": "nominal", "scale": {"domain": ["White", "African American", "Asian", "Hispanic"], "range": ["#E7B800", "#2E9FDF", "#D40F0F", "#157315"]}, "legend": {"title": null, "orient": "none", "legendX": 18, "legendY": 136, "direction": "horizontal", "columns": 2, "symbolType": "stroke", "symbolSize": 160, "symbolStrokeWidth": 1.5, "labelFontSize": 8.5, "fillColor": "white", "padding": 2, "columnPadding": 2, "rowPadding": 0, "labelOffset": 2}},
       "strokeDash": {"field": "g", "type": "nominal", "scale": {"domain": ["White", "African American", "Asian", "Hispanic"], "range": [[1, 0], [4, 2.5], [4, 2.5], [8, 4]]}, "legend": {"title": null, "orient": "none", "legendX": 18, "legendY": 136, "direction": "horizontal", "columns": 2, "symbolType": "stroke", "symbolSize": 160, "symbolStrokeWidth": 1.5, "labelFontSize": 8.5, "fillColor": "white", "padding": 2, "columnPadding": 2, "rowPadding": 0, "labelOffset": 2}}
      }},
     {"data": {"name": "censB"}, "mark": {"type": "point", "shape": "M-1,0H1M0,-1V1", "filled": false, "size": 30, "strokeWidth": 1.2, "opacity": 1}, "encoding": {"stroke": {"field": "g", "type": "nominal", "scale": {"domain": ["White", "African American", "Asian", "Hispanic"], "range": ["#E7B800", "#2E9FDF", "#D40F0F", "#157315"]}, "legend": null}}}
    ]},
   {"width": 295, "height": 56, "title": {"text": "Number at risk (number censored)", "offset": 6},
    "data": {"name": "riskB"},
    "mark": {"type": "text", "fontSize": 6.5},
    "encoding": {
     "x": {"field": "t", "type": "quantitative", "scale": {"domain": [-1.34, 28.43], "nice": false, "zero": false},
      "axis": {"values": [0,2.5,5,7.5,10,12.5,15,17.5,20,22.5,25,27.5], "labelExpr": "datum.value % 5 === 0 ? datum.label : ''", "labelFlush": false, "labelOverlap": false, "gridColor": {"condition": {"test": "datum.value % 5 !== 0", "value": "#f3f3f3"}, "value": "#e4e4e4"}, "tickColor": {"condition": {"test": "datum.value % 5 !== 0", "value": "transparent"}, "value": "#4d4d4d"}, "title": null}},
     "y": {"field": "g", "type": "nominal", "scale": {"type": "point", "padding": 0.6, "domain": ["White", "Asian", "African American", "Hispanic"]},
      "axis": {"title": null, "labels": false, "grid": true, "gridColor": "#ececec", "domain": false, "offset": 7, "tickSize": 21, "tickWidth": 4, "tickOffset": -5, "tickColor": {"condition": [{"test": "datum.value === 'White'", "value": "#E7B800"}, {"test": "datum.value === 'Asian'", "value": "#D40F0F"}, {"test": "datum.value === 'African American'", "value": "#2E9FDF"}], "value": "#157315"}}},
     "text": {"field": "label"},
     "color": {"field": "g", "type": "nominal", "scale": {"domain": ["White", "Asian", "African American", "Hispanic"], "range": ["#E7B800", "#E0262A", "#2E9FDF", "#2A8A2A"]}, "legend": null}
    }}
  ], "spacing": 51, "bounds": "flush",
  "resolve": {"scale": {"color": "independent", "strokeDash": "independent", "fill": "independent", "stroke": "independent"}, "legend": {"color": "independent", "strokeDash": "independent", "fill": "independent", "stroke": "independent"}}},
 {"title": {"text": "D", "anchor": "start", "fontSize": 13, "fontWeight": "bold", "dx": -48, "offset": -2, "frame": "group"},
  "vconcat": [
   {"width": 295, "height": 206, "title": {"text": "OS LOT >1 Versus First LOT", "offset": 4},
    "encoding": {
     "x": {"field": "t", "type": "quantitative", "scale": {"domain": [-1.34, 28.43], "nice": false, "zero": false},
      "axis": {"values": [0,2.5,5,7.5,10,12.5,15,17.5,20,22.5,25,27.5], "labelExpr": "datum.value % 5 === 0 ? datum.label : ''", "labelFlush": false, "labelOverlap": false, "gridColor": {"condition": {"test": "datum.value % 5 !== 0", "value": "#f3f3f3"}, "value": "#e4e4e4"}, "tickColor": {"condition": {"test": "datum.value % 5 !== 0", "value": "transparent"}, "value": "#4d4d4d"}, "title": "Time (months)"}},
     "y": {"field": "s", "type": "quantitative", "scale": {"domain": [-0.05, 1.05], "nice": false, "zero": false},
      "axis": {"values": [0,0.125,0.25,0.375,0.5,0.625,0.75,0.875,1], "format": ".2f", "labelExpr": "(datum.value*8) % 2 === 1 ? '' : datum.label", "labelFlush": false, "labelOverlap": false, "gridColor": {"condition": {"test": "(datum.value*8) % 2 === 1", "value": "#f3f3f3"}, "value": "#e4e4e4"}, "tickColor": {"condition": {"test": "(datum.value*8) % 2 === 1", "value": "transparent"}, "value": "#4d4d4d"}, "title": "Survival probability", "titlePadding": 12}}
    },
    "layer": [
     {"data": {"name": "bandD"}, "mark": {"type": "area", "interpolate": "step-after", "fillOpacity": 0.32}, "encoding": {"y2": {"field": "s2"}, "fill": {"field": "g", "type": "nominal", "scale": {"domain": ["LOT>1", "LOT=1"], "range": ["#E7B800", "#2E9FDF"]}, "legend": {"title": null, "orient": "top-right", "offset": 20, "symbolType": "stroke", "symbolSize": 170, "symbolStrokeWidth": 1.5, "labelFontSize": 8.5, "padding": 2, "rowPadding": 1, "labelOffset": 2}}}},
     {"data": {"name": "kmD"}, "mark": {"type": "line", "interpolate": "step-after", "strokeWidth": 1.5},
      "encoding": {
       "color": {"field": "g", "type": "nominal", "scale": {"domain": ["LOT>1", "LOT=1"], "range": ["#E7B800", "#2E9FDF"]}, "legend": {"title": null, "orient": "top-right", "offset": 20, "symbolType": "stroke", "symbolSize": 170, "symbolStrokeWidth": 1.5, "labelFontSize": 8.5, "padding": 2, "rowPadding": 1, "labelOffset": 2}},
       "strokeDash": {"field": "g", "type": "nominal", "scale": {"domain": ["LOT>1", "LOT=1"], "range": [[1, 0], [4, 2.5]]}, "legend": {"title": null, "orient": "top-right", "offset": 20, "symbolType": "stroke", "symbolSize": 170, "symbolStrokeWidth": 1.5, "labelFontSize": 8.5, "padding": 2, "rowPadding": 1, "labelOffset": 2}}
      }},
     {"data": {"name": "censD"}, "mark": {"type": "point", "shape": "M-1,0H1M0,-1V1", "filled": false, "size": 30, "strokeWidth": 1.2, "opacity": 1}, "encoding": {"stroke": {"field": "g", "type": "nominal", "scale": {"domain": ["LOT>1", "LOT=1"], "range": ["#E7B800", "#2E9FDF"]}, "legend": null}}},
     {"data": {"name": "medD"}, "mark": {"type": "rule", "color": "black", "strokeDash": [4, 3], "strokeWidth": 1}, "encoding": {"x2": {"field": "t2"}, "y2": {"field": "s2"}}},
     {"data": {"name": "annD"}, "mark": {"type": "text", "align": "left", "fontSize": 8, "fontStyle": "italic", "color": "black"}, "encoding": {"text": {"field": "p"}}},
     {"data": {"name": "annD"}, "mark": {"type": "text", "align": "left", "fontSize": 8, "dx": 7, "color": "black"}, "encoding": {"text": {"field": "rest"}}}
    ]},
   {"width": 295, "height": 37, "title": {"text": "Number at risk (number censored)", "offset": 6},
    "data": {"name": "riskD"},
    "mark": {"type": "text", "fontSize": 6.5},
    "encoding": {
     "x": {"field": "t", "type": "quantitative", "scale": {"domain": [-1.34, 28.43], "nice": false, "zero": false},
      "axis": {"values": [0,2.5,5,7.5,10,12.5,15,17.5,20,22.5,25,27.5], "labelExpr": "datum.value % 5 === 0 ? datum.label : ''", "labelFlush": false, "labelOverlap": false, "gridColor": {"condition": {"test": "datum.value % 5 !== 0", "value": "#f3f3f3"}, "value": "#e4e4e4"}, "tickColor": {"condition": {"test": "datum.value % 5 !== 0", "value": "transparent"}, "value": "#4d4d4d"}, "title": null}},
     "y": {"field": "g", "type": "nominal", "scale": {"type": "point", "padding": 0.6, "domain": ["LOT>1", "LOT=1"]},
      "axis": {"title": null, "labels": false, "grid": true, "gridColor": "#ececec", "domain": false, "offset": 7, "tickSize": 21, "tickWidth": 4, "tickOffset": -5, "tickColor": {"condition": {"test": "datum.value === 'LOT>1'", "value": "#E7B800"}, "value": "#2E9FDF"}}},
     "text": {"field": "label"},
     "color": {"field": "g", "type": "nominal", "scale": {"domain": ["LOT>1", "LOT=1"], "range": ["#E7B800", "#2E9FDF"]}, "legend": null}
    }}
  ], "spacing": 51, "bounds": "flush",
  "resolve": {"scale": {"color": "independent", "strokeDash": "independent", "fill": "independent", "stroke": "independent"}, "legend": {"color": "independent", "strokeDash": "independent", "fill": "independent", "stroke": "independent"}}}
], "spacing": 20,
 "resolve": {"scale": {"color": "independent", "strokeDash": "independent", "fill": "independent", "stroke": "independent"}, "legend": {"color": "independent", "strokeDash": "independent", "fill": "independent", "stroke": "independent"}}}
],
"spacing": 4,
"resolve": {"scale": {"color": "independent", "strokeDash": "independent", "fill": "independent", "stroke": "independent"}, "legend": {"color": "independent", "strokeDash": "independent", "fill": "independent", "stroke": "independent"}},
"config": {
 "font": "Liberation Sans",
 "view": {"stroke": "#555555", "strokeWidth": 1},
 "axis": {"labelFont": "Liberation Sans", "labelFontSize": 8, "labelColor": "#4d4d4d", "tickSize": 3, "domain": false, "labelPadding": 1.5, "titleFont": "Liberation Sans", "titleFontSize": 9.5, "titleFontWeight": "normal", "titleColor": "#000000", "titlePadding": 3, "gridWidth": 0.8},
 "title": {"font": "Liberation Sans", "fontSize": 11.5, "fontWeight": "bold", "color": "#000000"},
 "legend": {"labelFont": "Liberation Sans", "labelFontSize": 8.5, "labelColor": "#000000"},
 "text": {"font": "Liberation Sans"}
}
}
